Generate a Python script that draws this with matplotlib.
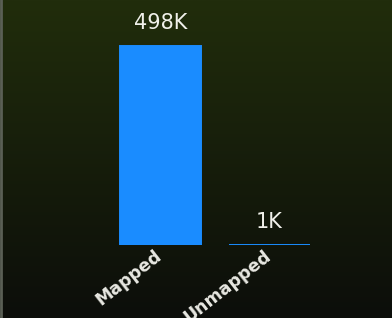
import numpy as np
import matplotlib
matplotlib.use("Agg")
from matplotlib import pyplot as plt
import matplotlib.transforms as mtransforms

categories = ["Mapped", "Unmapped"]
values = [498, 1]          # thousands
labels = ["498K", "1K"]

W, H = 392, 318
fig = plt.figure(figsize=(W / 100, H / 100), dpi=100)

# background gradient, dark olive at the top fading to near black
bg = fig.add_axes([0, 0, 1, 1])
top = np.array([33, 45, 12]) / 255
bottom = np.array([12, 14, 10]) / 255
t = np.linspace(0, 1, 200)[:, None, None]
grad = top * (1 - t) + bottom * t
grad = np.repeat(grad, 2, axis=1)
bg.imshow(grad, aspect="auto", extent=[0, 1, 0, 1])
bg.axvline(0.002, color="#5a5f55", lw=2)
bg.set_xlim(0, 1)
bg.set_ylim(0, 1)
bg.axis("off")

ax = fig.add_axes([106 / W, 73 / H, 218 / W, 240 / H])
ax.patch.set_alpha(0)
x = np.arange(len(categories))
bar_color = "#1a8cff"
ax.bar(x, values, width=0.75, color=bar_color, edgecolor=bar_color, linewidth=1.4)
ax.set_xlim(-0.5, 1.5)
ax.set_ylim(0, 498 * 240 / 199)

for xi, v, lab in zip(x, values, labels):
    ax.annotate(lab, (xi, v), xytext=(0, 12), textcoords="offset points",
                ha="center", va="baseline", color="#f0f0ea", fontsize=15)

# category labels, rotated and ending just below the bar centre
shift = mtransforms.ScaledTranslation(-6 / 100, -2 / 100, fig.dpi_scale_trans)
trans = ax.get_xaxis_transform() + shift
for xi, cat in zip(x, categories):
    ax.text(xi, 0, cat, transform=trans, rotation=38, ha="right", va="top",
            rotation_mode="anchor", color="#e8e8e2", fontsize=12.5,
            fontweight="bold")

ax.set_xticks([])
ax.set_yticks([])
for s in ax.spines.values():
    s.set_visible(False)

fig.savefig("out.png", dpi=100)
